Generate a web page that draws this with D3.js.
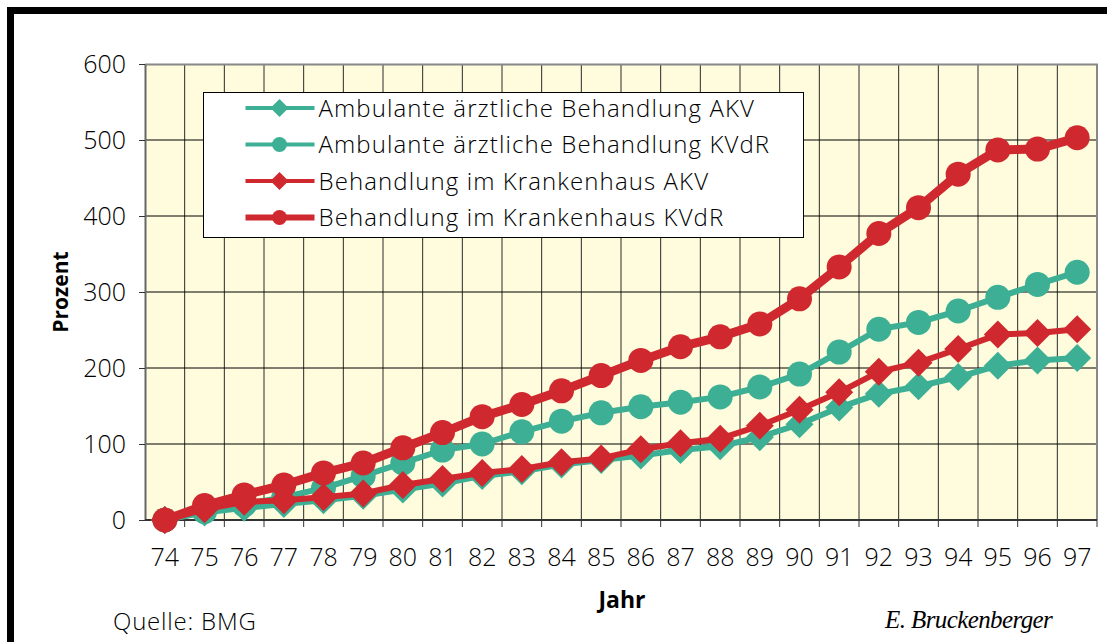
<!DOCTYPE html>
<html>
<head>
<meta charset="utf-8">
<script src="https://cdn.jsdelivr.net/npm/d3@7"></script>
<style>
  body { margin: 0; background: #fff; }
  svg text { font-family: "Open Sans", sans-serif; font-weight: 300; fill: #000; }
</style>
</head>
<body>
<div id="chart"></div>
<script>
// Data
const years = ['74','75','76','77','78','79','80','81','82','83','84','85',
               '86','87','88','89','90','91','92','93','94','95','96','97']
const ambAKV  = [0, 10, 16, 21, 26, 32, 40, 48, 58, 64, 73, 79, 85, 92, 97, 109, 126, 148, 166, 176, 188, 203, 210, 213]
const ambKVdR = [0, 11, 20, 30, 42, 58, 75, 92, 100, 116, 130, 141, 149, 155, 162, 175, 192, 221, 251, 260, 275, 293, 310, 326]
const khAKV   = [0, 14, 24, 26, 30, 35, 46, 54, 62, 67, 76, 81, 93, 101, 107, 124, 145, 168, 195, 207, 225, 244, 246, 251]
const khKVdR  = [0, 19, 33, 46, 62, 75, 95, 115, 136, 152, 170, 190, 210, 228, 241, 258, 291, 333, 377, 411, 455, 487, 488, 503]
const yTicks = [0, 100, 200, 300, 400, 500, 600]

const teal = '#3caf94'
const red = '#cf282e'

const series = [
  { name: 'Ambulante ärztliche Behandlung AKV',  values: ambAKV,  color: teal, shape: 'diamond', lw: 6, lgw: 4 },
  { name: 'Ambulante ärztliche Behandlung KVdR', values: ambKVdR, color: teal, shape: 'circle',  lw: 6, lgw: 4 },
  { name: 'Behandlung im Krankenhaus AKV',       values: khAKV,   color: red,  shape: 'diamond', lw: 6, lgw: 4 },
  { name: 'Behandlung im Krankenhaus KVdR',      values: khKVdR,  color: red,  shape: 'circle',  lw: 9, lgw: 6 }
]

// Canvas
const W = 1107, H = 642
const m = { left: 145, top: 64 }
const w = 1097 - m.left
const h = 520 - m.top

const svg = d3.select('#chart').append('svg')
  .attr('width', W)
  .attr('height', H)

// outer frame (cut off at right and bottom)
svg.append('rect')
  .attr('x', 10.5).attr('y', 10.5)
  .attr('width', 1300).attr('height', 800)
  .attr('fill', 'none')
  .attr('stroke', '#000')
  .attr('stroke-width', 7)

const g = svg.append('g').attr('transform', `translate(${m.left}, ${m.top})`)

// Scales
const x = d3.scaleBand().domain(years).range([0, w]).padding(0)
const y = d3.scaleLinear().domain([0, 600]).range([h, 0])
const cx = d => x(d) + x.bandwidth() / 2

// plot background
g.append('rect')
  .attr('width', w).attr('height', h)
  .attr('fill', '#fefcdd')

// vertical grid at band edges
const edges = years.map(d => x(d)).slice(1)
g.append('g').selectAll('line')
  .data(edges).enter().append('line')
  .attr('x1', d => d).attr('x2', d => d)
  .attr('y1', 0).attr('y2', h)
  .attr('stroke', '#2a2a2a').attr('stroke-width', 1)

// horizontal grid
g.append('g').selectAll('line')
  .data(yTicks.slice(1, -1)).enter().append('line')
  .attr('x1', 0).attr('x2', w)
  .attr('y1', d => y(d)).attr('y2', d => y(d))
  .attr('stroke', '#000').attr('stroke-width', 1)

// plot border top/right
g.append('path')
  .attr('d', `M0,0.5H${w}V${h}`)
  .attr('fill', 'none')
  .attr('stroke', '#888').attr('stroke-width', 2)

// Axes
const yAxis = d3.axisLeft(y).tickValues(yTicks).tickSize(6).tickPadding(13).tickSizeOuter(0)
const yAxisCall = g.append('g').call(yAxis)
yAxisCall.select('.domain').attr('stroke', '#666').attr('stroke-width', 2)
yAxisCall.selectAll('.tick line').attr('stroke', '#333')
yAxisCall.selectAll('text').style('font-size', '25px')

const xAxis = d3.axisBottom(x).tickSize(0).tickPadding(28)
const xAxisCall = g.append('g').attr('transform', `translate(0, ${h})`).call(xAxis)
xAxisCall.select('.domain').remove()
xAxisCall.selectAll('text').style('font-size', '25px')

// x axis line + boundary ticks
g.append('line')
  .attr('x1', 0).attr('x2', w)
  .attr('y1', h).attr('y2', h)
  .attr('stroke', '#333').attr('stroke-width', 2)
g.append('g').selectAll('line')
  .data(edges.concat([w])).enter().append('line')
  .attr('x1', d => d).attr('x2', d => d)
  .attr('y1', h).attr('y2', h + 7)
  .attr('stroke', '#333').attr('stroke-width', 1)

// Lines and markers
const line = d3.line().x((d, i) => cx(years[i])).y(d => y(d))
const diamond = s => `M0,${-s}L${s},0L0,${s}L${-s},0Z`

series.forEach(s => {
  const sg = g.append('g')
  sg.append('path')
    .datum(s.values)
    .attr('d', line)
    .attr('fill', 'none')
    .attr('stroke', s.color)
    .attr('stroke-width', s.lw)
    .attr('stroke-linejoin', 'round')
  if (s.shape === 'circle') {
    sg.selectAll('circle')
      .data(s.values).enter().append('circle')
      .attr('cx', (d, i) => cx(years[i]))
      .attr('cy', d => y(d))
      .attr('r', 12.5)
      .attr('fill', s.color)
  } else {
    sg.selectAll('path.m')
      .data(s.values).enter().append('path')
      .attr('class', 'm')
      .attr('transform', (d, i) => `translate(${cx(years[i])}, ${y(d)})`)
      .attr('d', diamond(14))
      .attr('fill', s.color)
  }
})

// Legend
const lg = svg.append('g').attr('transform', 'translate(203.5, 92.5)')
lg.append('rect')
  .attr('width', 600).attr('height', 145)
  .attr('fill', '#fff')
  .attr('stroke', '#000').attr('stroke-width', 1)

const rows = lg.selectAll('g.row')
  .data(series).enter().append('g')
  .attr('class', 'row')
  .attr('transform', (d, i) => `translate(0, ${15.5 + i * 36.5})`)

rows.append('line')
  .attr('x1', 42).attr('x2', 111)
  .attr('stroke', d => d.color)
  .attr('stroke-width', d => d.lgw)
rows.each(function (d) {
  const r = d3.select(this)
  if (d.shape === 'circle') {
    r.append('circle').attr('cx', 76).attr('r', 7.5).attr('fill', d.color)
  } else {
    r.append('path').attr('transform', 'translate(76,0)')
      .attr('d', diamond(9)).attr('fill', d.color)
  }
})
rows.append('text')
  .attr('x', 115)
  .attr('y', 8.5)
  .style('font-size', '24px')
  .style('letter-spacing', '1.1px')
  .text(d => d.name)

// Titles
svg.append('text')
  .attr('transform', 'translate(68, 292) rotate(-90)')
  .attr('text-anchor', 'middle')
  .style('font-size', '21px')
  .style('font-weight', 'bold')
  .text('Prozent')

svg.append('text')
  .attr('x', 622).attr('y', 608)
  .attr('text-anchor', 'middle')
  .style('font-size', '23px')
  .style('font-weight', 'bold')
  .text('Jahr')

svg.append('text')
  .attr('x', 113).attr('y', 630)
  .style('font-size', '24px')
  .style('letter-spacing', '0.8px')
  .text('Quelle: BMG')

svg.append('text')
  .attr('x', 885).attr('y', 628)
  .style('font-family', '"Liberation Serif", serif')
  .style('font-style', 'italic')
  .style('font-weight', 'normal')
  .style('font-size', '25px')
  .style('letter-spacing', '-0.6px')
  .text('E. Bruckenberger')
</script>
</body>
</html>
